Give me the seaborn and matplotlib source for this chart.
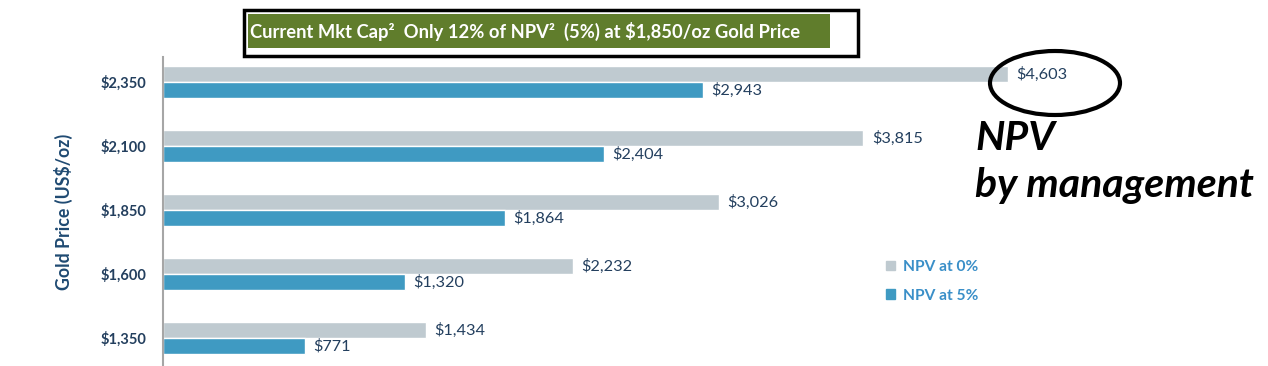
import matplotlib
matplotlib.use("Agg")
import matplotlib.pyplot as plt
import matplotlib.patches as mpatches
import pandas as pd
import seaborn as sns

gold_prices = ["$2,350", "$2,100", "$1,850", "$1,600", "$1,350"]
npv_0 = [4603, 3815, 3026, 2232, 1434]
npv_5 = [2943, 2404, 1864, 1320, 771]
series_names = ["NPV at 0%", "NPV at 5%"]

GRAY = "#BFCAD0"
BLUE = "#3F9AC2"
NAVY = "#233F5E"

df = pd.DataFrame({
    "Gold Price": gold_prices * 2,
    "NPV": npv_0 + npv_5,
    "Series": [series_names[0]] * len(gold_prices) + [series_names[1]] * len(gold_prices),
})

sns.set_theme(style="white")
plt.rcParams["font.family"] = ["Lato", "DejaVu Sans"]

W, H = 1268, 366
fig = plt.figure(figsize=(W / 100, H / 100), dpi=100)
ax = fig.add_axes([163 / W, 0, 918 / W, (H - 57) / H])

sns.barplot(data=df, x="NPV", y="Gold Price", hue="Series", order=gold_prices,
            hue_order=series_names, palette=[GRAY, BLUE], width=0.5,
            orient="h", ax=ax, saturation=1, legend=False)

for cont in ax.containers:
    ax.bar_label(cont, labels=[f"${v:,.0f}" for v in cont.datavalues],
                 padding=6, fontsize=11.7, color=NAVY)

ax.set_xlim(0, 5000)
ax.set_ylim(4.44, -0.39)
ax.set_xticks([])
ax.set_xlabel("")
ax.set_ylabel("Gold Price (US$/oz)", fontsize=12.8, fontweight="bold", color="#1F4A72", labelpad=20)
ax.tick_params(axis="y", length=0, pad=12)
for t in ax.get_yticklabels():
    t.set_fontweight("bold")
    t.set_fontsize(10.5)
    t.set_color(NAVY)
for s in ["top", "right", "bottom"]:
    ax.spines[s].set_visible(False)
ax.spines["left"].set_color("#A6A6A6")
ax.spines["left"].set_linewidth(1.5)

# legend
handles = [mpatches.Patch(color=GRAY), mpatches.Patch(color=BLUE)]
leg = fig.legend(handles, series_names, loc="upper left", bbox_to_anchor=(872 / W, 1 - 246 / H),
                 frameon=False, handlelength=0.6, handleheight=0.6, handletextpad=0.5,
                 labelspacing=0.95, prop={"weight": "bold", "size": 11.2})
for t in leg.get_texts():
    t.set_color("#3A8FC8")

# title banner
fig.patches.append(mpatches.Rectangle((244 / W, 1 - 56 / H), 614 / W, 46 / H, transform=fig.transFigure,
                                      facecolor="white", edgecolor="black", linewidth=2.5, zorder=1))
fig.patches.append(mpatches.Rectangle((248 / W, 1 - 48 / H), 582 / W, 34 / H, transform=fig.transFigure,
                                      facecolor="#607D2C", edgecolor="none", zorder=2))
fig.text(250 / W, 1 - 31 / H, "Current Mkt Cap\u00b2  Only 12% of NPV\u00b2  (5%) at $1,850/oz Gold Price",
         color="white", fontsize=13.2, fontweight="bold", va="center", ha="left", zorder=3)

# ellipse annotation
fig.patches.append(mpatches.Ellipse((1055 / W, 1 - 83 / H), 130 / W, 64 / H, transform=fig.transFigure,
                                    facecolor="none", edgecolor="black", linewidth=3))
fig.text(975 / W, 1 - 150 / H, "NPV", fontsize=29.5, fontweight="bold", fontstyle="italic",
         color="black", ha="left", va="baseline")
fig.text(975 / W, 1 - 197 / H, "by management", fontsize=29.5, fontweight="bold", fontstyle="italic",
         color="black", ha="left", va="baseline")

fig.savefig("out.png", dpi=100)
